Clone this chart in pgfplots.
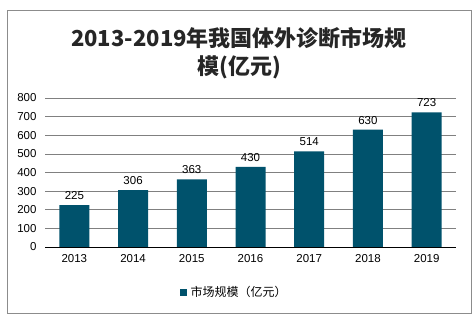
\documentclass[border=0pt]{standalone}
\usepackage{pgfplots}
\pgfplotsset{compat=1.18}
\usepackage{fontspec}
\setmainfont{Liberation Sans}
\newfontfamily\cjk{Noto Sans CJK SC}
\definecolor{barc}{RGB}{0,82,108}
\begin{document}
\begin{tikzpicture}[x=1pt,y=1pt]
\path (0,0) rectangle (476,321);
\draw[gray!90, line width=0.8pt] (7,8) rectangle (471,311);
\node[font=\cjk\bfseries\fontsize{22}{28}\selectfont, align=center, text=black!85] at (239,268) {2013-2019年我国体外诊断市场规\\模(亿元)};
\begin{axis}[
  at={(45pt,74pt)}, anchor=south west,
  scale only axis, width=411pt, height=149pt,
  xmin=-0.5, xmax=6.5, ymin=0, ymax=800,
  ytick={0,100,...,800},
  xtick=data,
  xticklabels={2013,2014,2015,2016,2017,2018,2019},
  axis x line*=bottom, axis y line*=left,
  y axis line style={draw=none},
  x axis line style={black, -},
  major tick length=0pt,
  ymajorgrids, grid style={gray, line width=0.6pt},
  ticklabel style={font=\fontsize{11.5}{13}\selectfont},
  /pgf/number format/assume math mode=true,
  yticklabel style={xshift=-5pt},
  xticklabel style={yshift=-4pt},
  nodes near coords,
  nodes near coords style={font=\fontsize{11.5}{13}\selectfont, yshift=2pt},
  legend style={at={(0.46,0)}, yshift=-45pt, anchor=center, draw=none, font=\cjk\fontsize{12}{14}\selectfont},
  legend image code/.code={\fill[barc] (0pt,-4pt) rectangle (7pt,3pt);},
]
\addplot[ybar, bar width=30pt, fill=barc, draw=none] coordinates {(0,225) (1,306) (2,363) (3,430) (4,514) (5,630) (6,723)};
\addlegendentry{\hspace{2pt}市场规模（亿元）}
\end{axis}
\end{tikzpicture}
\end{document}
